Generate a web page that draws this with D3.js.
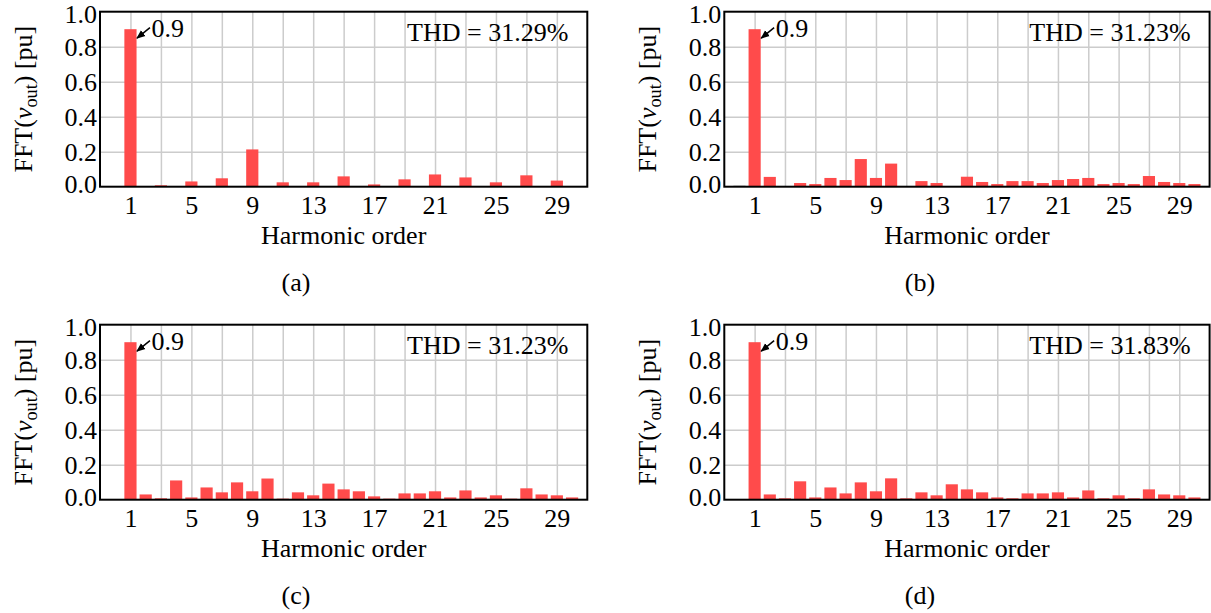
<!DOCTYPE html>
<html><head><meta charset="utf-8">
<script src="https://cdn.jsdelivr.net/npm/d3@7"></script>
<style>
body{margin:0;background:#fff;}
svg{display:block;}
svg text{font-family:"Times New Roman","Liberation Serif",Times,Tinos,"DejaVu Serif","Noto Serif",serif !important;fill:#000;}
</style>
</head><body>
<svg id="chart" width="1211" height="613"></svg>
<script>
// ---- data ----
const harmonicOrders = [0,1,2,3,4,5,6,7,8,9,10,11,12,13,14,15,16,17,18,19,20,21,22,23,24,25,26,27,28,29,30];
const xTickLabels = [1,5,9,13,17,21,25,29];
const yTickLabels = [0.0,0.2,0.4,0.6,0.8,1.0];
const valuesA = [0,0.9,0.004,0.008,0.004,0.03,0.004,0.048,0.004,0.213,0.004,0.025,0.004,0.025,0.004,0.059,0.004,0.013,0.004,0.042,0.004,0.07,0.004,0.053,0.004,0.025,0.004,0.065,0.004,0.035,0.004];
const valuesB = [0.005,0.9,0.056,0.004,0.021,0.015,0.05,0.038,0.158,0.05,0.132,0.004,0.032,0.021,0.002,0.057,0.027,0.015,0.032,0.032,0.021,0.038,0.044,0.05,0.015,0.021,0.015,0.061,0.027,0.021,0.015];
const valuesC = [0.003,0.9,0.03,0.008,0.11,0.013,0.07,0.042,0.099,0.048,0.121,0.006,0.042,0.025,0.092,0.059,0.048,0.019,0.006,0.036,0.036,0.048,0.013,0.053,0.013,0.025,0.006,0.065,0.03,0.025,0.013];
const valuesD = [0.004,0.9,0.03,0.008,0.105,0.013,0.07,0.036,0.099,0.048,0.122,0.008,0.042,0.025,0.088,0.059,0.042,0.013,0.008,0.036,0.036,0.042,0.013,0.053,0.008,0.025,0.008,0.059,0.03,0.025,0.013];
const thdLabels = ["THD = 31.29%","THD = 31.23%","THD = 31.23%","THD = 31.83%"];
const panelLetters = ["(a)","(b)","(c)","(d)"];
const fundamentalLabel = "0.9";
const xAxisTitle = "Harmonic order";

// ---- layout / style ----
const panels = [
  {vals: valuesA, x0:100,   x1:587.3,  y0:11.7,  y1:186.7, lx:296, dc:"none"},
  {vals: valuesB, x0:724.3, x1:1209.6, y0:11.7,  y1:186.7, lx:920, dc:"#444"},
  {vals: valuesC, x0:100,   x1:587.3,  y0:324.7, y1:499.7, lx:296, dc:"#ff4a4a"},
  {vals: valuesD, x0:724.3, x1:1209.6, y0:324.7, y1:499.7, lx:920, dc:"#999"}
];
const barColor = "#ff4b4b";
const gridColor = "#cccccc";
const FS = 26;
const FONT = '"Times New Roman","Liberation Serif",Times,Tinos,"DejaVu Serif",serif';

const svg = d3.select("#chart");
const defs = svg.append("defs");
defs.append("marker").attr("id","arr").attr("viewBox","0 0 10 10")
  .attr("refX",9).attr("refY",5).attr("markerWidth",9).attr("markerHeight",9)
  .attr("markerUnits","userSpaceOnUse").attr("orient","auto")
  .append("path").attr("d","M0,1 L10,5 L0,9 Z").attr("fill","#000");

panels.forEach((p, i) => {
  const g = svg.append("g").attr("font-family", FONT);
  const x = d3.scaleLinear().domain([-1,31]).range([p.x0,p.x1]);
  const y = d3.scaleLinear().domain([0,1]).range([p.y1,p.y0]);
  const w = p.x1 - p.x0, h = p.y1 - p.y0;

  // grid via axes
  const gx = g.append("g").attr("transform",`translate(0,${p.y1})`)
    .call(d3.axisBottom(x).tickValues(d3.range(1,31,2)).tickSize(-h).tickFormat(""));
  gx.select(".domain").remove();
  gx.selectAll(".tick line").attr("stroke",gridColor).attr("stroke-width",1.5);
  const gy = g.append("g").attr("transform",`translate(${p.x0},0)`)
    .call(d3.axisLeft(y).tickValues([0.2,0.4,0.6,0.8]).tickSize(-w).tickFormat(""));
  gy.select(".domain").remove();
  gy.selectAll(".tick line").attr("stroke",gridColor).attr("stroke-width",1.5);

  // bars
  const bw = 0.8 * (x(1) - x(0));
  const data = harmonicOrders.map((hn, k) => ({h: hn, v: p.vals[k]}));
  g.append("g").selectAll("rect").data(data).join("rect")
    .attr("x", d => x(d.h) - bw/2)
    .attr("width", bw)
    .attr("y", d => y(d.v))
    .attr("height", d => Math.max(0, y(0) - y(d.v)))
    .attr("fill", d => d.h === 0 ? p.dc : barColor);

  // frame
  g.append("rect").attr("x",p.x0).attr("y",p.y0).attr("width",w).attr("height",h)
    .attr("fill","none").attr("stroke","#000").attr("stroke-width",2);

  // axis labels (tick text)
  const ax = g.append("g").attr("transform",`translate(0,${p.y1})`)
    .call(d3.axisBottom(x).tickValues(xTickLabels).tickSize(0).tickPadding(0).tickFormat(d3.format("d")));
  ax.attr("font-family", FONT);
  ax.select(".domain").remove();
  ax.selectAll("text").attr("font-size",FS).attr("dy",null).attr("y",27);

  const ay = g.append("g").attr("transform",`translate(${p.x0},0)`)
    .call(d3.axisLeft(y).tickValues(yTickLabels).tickSize(0).tickPadding(3).tickFormat(d3.format(".1f")));
  ay.attr("font-family", FONT);
  ay.select(".domain").remove();
  ay.selectAll(".tick").attr("transform", d => {
    const yy = Math.min(Math.max(y(d), p.y0 + 2.6), p.y1 - 2.6);
    return `translate(0,${yy})`;
  });
  ay.selectAll("text").attr("font-size",FS).attr("dy",null).attr("y",8.8);

  // x title
  g.append("text").attr("x",(p.x0+p.x1)/2).attr("y",p.y1+57).attr("text-anchor","middle")
    .attr("font-size",FS).text(xAxisTitle);

  // y title
  const yt = g.append("text")
    .attr("transform",`translate(${p.x0-68},${(p.y0+p.y1)/2}) rotate(-90)`)
    .attr("text-anchor","middle").attr("font-size",FS);
  yt.append("tspan").text("FFT(");
  yt.append("tspan").attr("font-style","italic").text("v");
  yt.append("tspan").attr("font-size",FS*0.7).attr("dy",5).text("out");
  yt.append("tspan").attr("dy",-5).text(") [pu]");

  // THD
  g.append("text").attr("x",p.x1-19).attr("y",p.y0+29).attr("text-anchor","end")
    .attr("font-size",FS).text(thdLabels[i]);

  // fundamental annotation
  const bx = x(1), by = y(p.vals[1]);
  g.append("line").attr("x1",bx+19.5).attr("y1",by-1.5).attr("x2",bx+6.5).attr("y2",by+9)
    .attr("stroke","#000").attr("stroke-width",1.5).attr("marker-end","url(#arr)");
  g.append("text").attr("x",bx+21).attr("y",by+7.5).attr("font-size",FS).text(fundamentalLabel);

  // panel letter
  g.append("text").attr("x",p.lx).attr("y",p.y1+104).attr("text-anchor","middle")
    .attr("font-size",FS).text(panelLetters[i]);
});
</script>
</body></html>
